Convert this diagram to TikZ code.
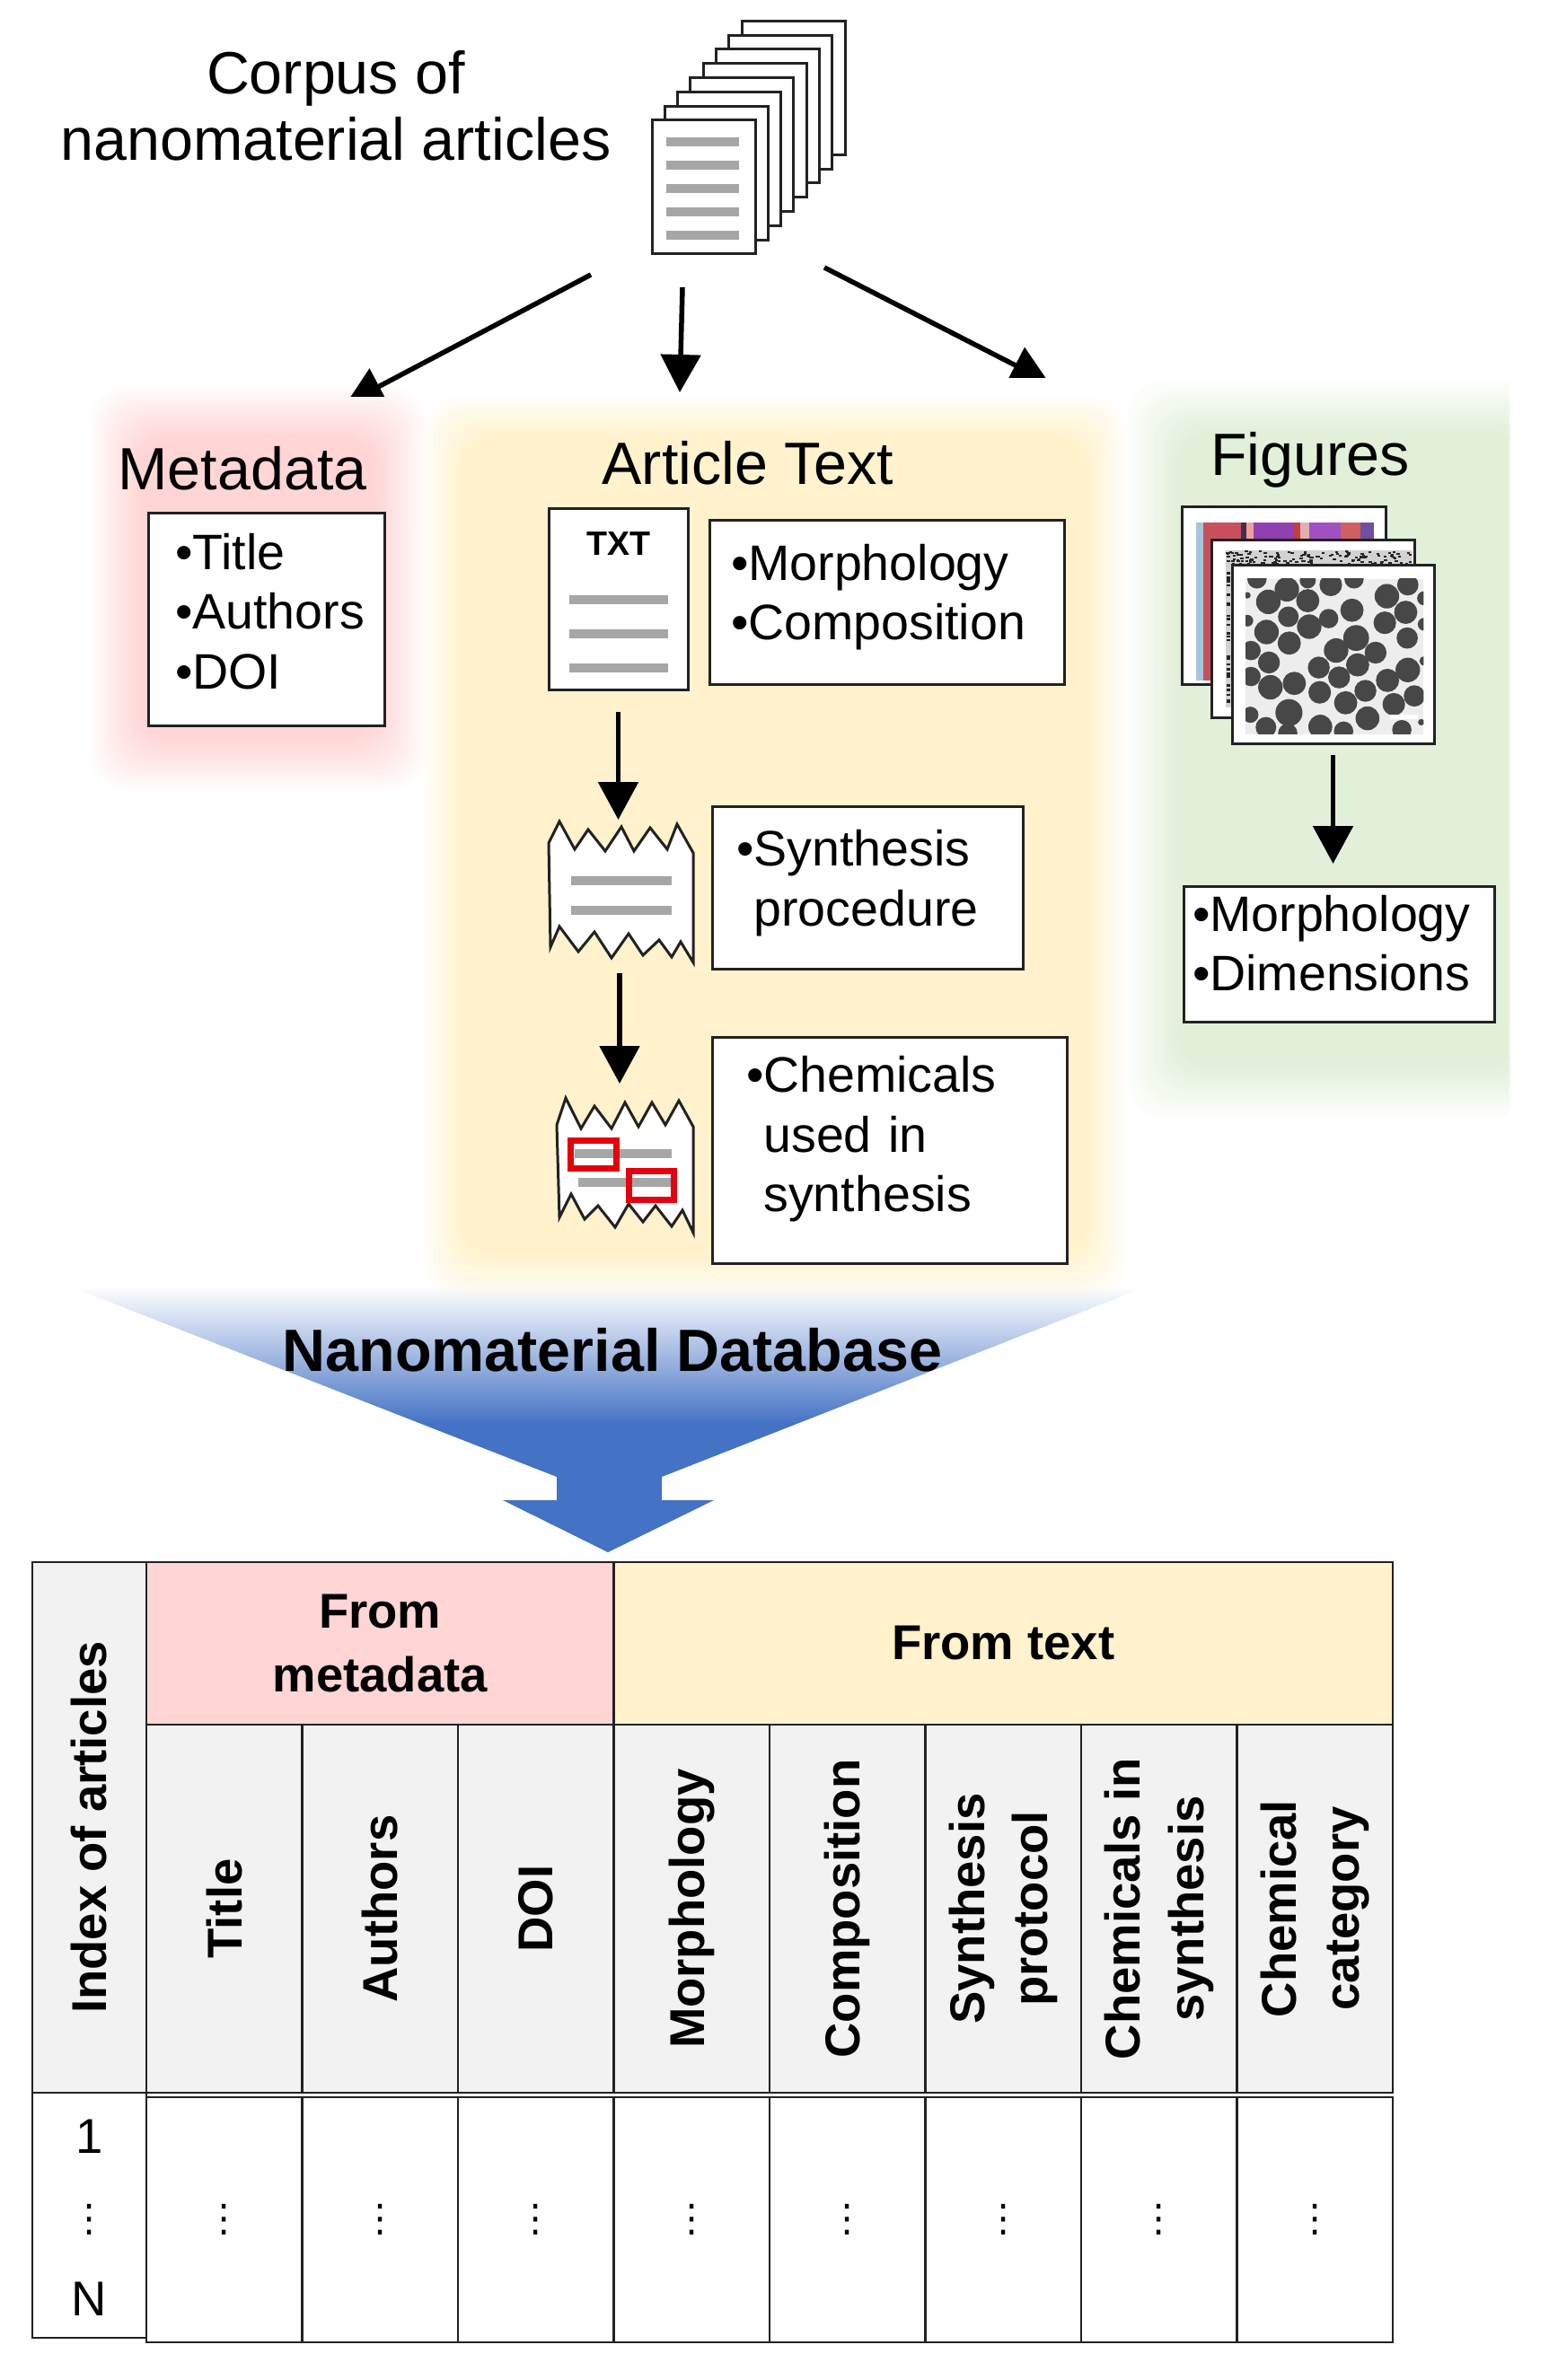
\documentclass[tikz,border=0pt]{standalone}
\usepackage{fontspec}
\setmainfont{Liberation Sans}
\newfontfamily\dotsfont{DejaVu Sans}
\usepackage{xcolor}
\usetikzlibrary{arrows.meta, positioning, shadows}

\definecolor{softpink}{HTML}{FFD5D5}
\definecolor{softyellow}{HTML}{FFF2CC}
\definecolor{softgreen}{HTML}{E2F0D9}
\definecolor{dbblue}{HTML}{4472C4}
\definecolor{headgray}{HTML}{F2F2F2}
\definecolor{linegray}{HTML}{A6A6A6}
\definecolor{markred}{HTML}{E3000F}
\definecolor{edge}{HTML}{222222}

\pgfdeclareverticalshading{funnelfade}{100bp}{color(0bp)=(dbblue); color(48bp)=(dbblue); color(73bp)=(white); color(100bp)=(white)}

% blurred panel: colour, corners, blur width
\newcommand{\softpanel}[6]{%
  \foreach \k in {0,...,13} {
    \pgfmathsetmacro{\ins}{\k*#6/13}
    \pgfmathsetmacro{\alph}{1/(14-\k)}
    \fill[#1, fill opacity=\alph, rounded corners=4mm] ({#2+\ins},{#3+\ins}) rectangle ({#4-\ins},{#5-\ins});
  }%
}

\begin{document}
\begin{tikzpicture}[
    x=1cm, y=-1cm,
    % Styles
    heading/.style={font=\fontsize{18.9}{21}\selectfont, align=center, inner sep=0pt},
    page/.style={rectangle, draw=edge, line width=0.03cm, fill=white, inner sep=0pt},
    txtbox/.style n args={4}{rectangle, draw=edge, line width=0.03cm, fill=white, align=left,
        font=\fontsize{15.8}{18.9}\selectfont, minimum height=#2cm, inner xsep=#3cm, inner ysep=0pt,
        text width={(#1-2*#3)*1cm}, execute at end node={\endgraf\vspace*{#4cm}},
        drop shadow={shadow xshift=0.02cm, shadow yshift=-0.02cm, opacity=0.35}},
    textline/.style={draw=linegray, line width=0.1cm},
    torn/.style={draw=edge, line width=0.03cm, fill=white, line join=miter},
    marker/.style={draw=markred, line width=0.07cm},
    arrow/.style={-{Triangle[length=0.42cm,width=0.44cm]}, line width=0.055cm},
    cell/.style={rectangle, draw=edge, line width=0.025cm, inner sep=0pt, align=center,
        font=\fontsize{15.5}{20}\selectfont\bfseries},
    colhead/.style={cell, fill=headgray, rotate=90, minimum width=4.1cm, minimum height=1.735cm},
    datacell/.style={cell, minimum width=1.735cm, minimum height=2.73cm, font=\fontsize{12}{13}\dotsfont},
    indexnum/.style={font=\fontsize{15.5}{18}\selectfont, inner sep=0pt},
]
\useasboundingbox (0,0) rectangle (17.24,26.51);

% ===== DATABASE FUNNEL =====
\shade[shading=funnelfade]
    (0.45,14.2) -- (6.2,16.45) -- (6.2,16.71) -- (5.6,16.71) -- (6.77,17.29) -- (7.95,16.71)
    -- (7.37,16.71) -- (7.37,16.45) -- (13.1,14.2) -- cycle;

% ===== SOFT PANELS =====
\softpanel{softpink}{1.00}{4.30}{4.75}{8.80}{0.55}
\begin{scope}
    \clip (0,0) rectangle (16.81,26.51);
    \softpanel{softgreen}{12.55}{4.24}{17.5}{12.45}{0.55}
\end{scope}
\softpanel{softyellow}{4.70}{4.40}{12.55}{14.45}{0.45}

% ===== CORPUS =====
\node[heading] (corpus) at (3.74,1.18) {Corpus of\\nanomaterial articles};
\foreach \i in {7,...,0}
    \node[page, minimum width=1.15cm, minimum height=1.49cm] (doc\i) at ({7.835+\i*0.143},{2.085-\i*0.158}) {};
\foreach \y in {1.58,1.84,2.10,2.36,2.62}
    \draw[textline] (7.42,\y) -- (8.23,\y);

\coordinate (corpusL) at (6.58,3.06);
\coordinate (corpusM) at (7.60,3.20);
\coordinate (corpusR) at (9.18,2.98);
\coordinate (metaIn) at (3.85,4.50);
\coordinate (textIn) at (7.57,4.37);
\coordinate (figIn) at (11.68,4.26);

\begin{scope}
    \clip (0,0) rectangle (17.24,4.42);
    \draw[arrow] (corpusL) -- (metaIn);
\end{scope}
\draw[arrow] (corpusM) -- (textIn);
\begin{scope}
    \clip (0,0) rectangle (17.24,4.21);
    \draw[arrow] (corpusR) -- (figIn);
\end{scope}

% ===== METADATA =====
\node[heading] (metaTitle) at (2.70,5.22) {Metadata};
\node[txtbox={2.63}{2.36}{0.30}{0.18}] (metaBox) at (2.965,6.90)
    {\textbullet Title\\\textbullet Authors\\\textbullet DOI};

% ===== ARTICLE TEXT =====
\node[heading] (textTitle) at (8.33,5.16) {Article Text};
\node[page, minimum width=1.55cm, minimum height=2.02cm] (txtdoc) at (6.885,6.68) {};
\node[font=\fontsize{10.7}{12}\selectfont\bfseries, inner sep=0pt] (txtlabel) at (6.89,6.06) {TXT};
\foreach \y in {6.68,7.06,7.44}
    \draw[textline] (6.34,\y) -- (7.44,\y);
\node[txtbox={3.95}{1.82}{0.24}{0.12}] (morphBox) at (9.875,6.71)
    {\textbullet Morphology\\\textbullet Composition};

% torn page
\draw[torn] (6.11,9.39) -- (6.23,9.15) -- (6.40,9.46) -- (6.55,9.24) -- (6.74,9.48) -- (6.92,9.21)
    -- (7.06,9.48) -- (7.24,9.22) -- (7.43,9.46) -- (7.54,9.18) -- (7.72,9.50) -- (7.72,10.72)
    -- (7.58,10.49) -- (7.48,10.66) -- (7.34,10.47) -- (7.16,10.64) -- (7.00,10.40) -- (6.81,10.67)
    -- (6.62,10.38) -- (6.44,10.60) -- (6.23,10.32) -- (6.13,10.55) -- cycle;
\draw[textline] (6.36,9.81) -- (7.48,9.81);
\draw[textline] (6.36,10.14) -- (7.48,10.14);
\node[txtbox={3.46}{1.81}{0.27}{0.10}] (synthBox) at (9.66,9.885)
    {\textbullet Synthesis\\\hphantom{\textbullet}procedure};

% torn page with marks
\draw[torn] (6.20,12.53) -- (6.30,12.23) -- (6.47,12.57) -- (6.62,12.32) -- (6.81,12.57) -- (6.96,12.28)
    -- (7.11,12.55) -- (7.26,12.28) -- (7.41,12.53) -- (7.56,12.26) -- (7.72,12.55) -- (7.72,13.73)
    -- (7.60,13.48) -- (7.48,13.66) -- (7.30,13.43) -- (7.16,13.61) -- (7.00,13.41) -- (6.85,13.67)
    -- (6.66,13.43) -- (6.51,13.58) -- (6.36,13.30) -- (6.23,13.56) -- cycle;
\draw[textline] (6.40,12.85) -- (7.48,12.85);
\draw[textline] (6.44,13.17) -- (7.52,13.17);
\draw[marker] (6.35,12.70) rectangle (6.86,13.01);
\draw[marker] (7.00,13.04) rectangle (7.50,13.36);
\node[txtbox={3.95}{2.52}{0.38}{0.24}] (chemBox) at (9.905,12.81)
    {\textbullet Chemicals\\\hphantom{\textbullet}used in\\\hphantom{\textbullet}synthesis};

\coordinate (tornAtop) at (6.885,9.13);
\coordinate (tornAbot) at (6.90,10.84);
\coordinate (tornBtop) at (6.90,12.07);
\draw[arrow] ([yshift=-0.22cm]txtdoc.south) -- (tornAtop);
\draw[arrow] (tornAbot) -- (tornBtop);

% ===== FIGURES =====
\node[heading] (figTitle) at (14.59,5.12) {Figures};
\node[page, minimum width=2.27cm, minimum height=1.98cm] (figback) at (14.295,6.64) {};
\begin{scope}[shift={(13,5.5)}, x=0.003333cm, y=-0.003333cm]
    \foreach \xa/\xb/\c in {97/120/A8C4DC,120/245/C8505C,245/265/403050,265/290/F0A0A0,290/420/9040B0,
        420/445/C04040,445/475/E0B0B0,475/580/A050C0,580/645/D06060,645/690/7050A0} {
        \definecolor{stripe}{HTML}{\c}
        \fill[stripe] (\xa,95) rectangle (\xb,625);
    }
\end{scope}
\node[page, minimum width=2.26cm, minimum height=1.98cm] (figmid) at (14.62,7.01) {};
\begin{scope}[shift={(13,5.5)}, x=0.003333cm, y=-0.003333cm]
    \fill[gray!35] (195,190) rectangle (822,240);
    \fill[gray!35] (195,190) rectangle (215,715);
    \pgfmathsetseed{7}
    \foreach \i in {1,...,150} {
        \pgfmathsetmacro{\px}{195+rnd*622}
        \pgfmathsetmacro{\py}{190+rnd*46}
        \fill[black!85] (\px,\py) rectangle ++(10,6);
    }
    \foreach \i in {1,...,40} {
        \pgfmathsetmacro{\py}{190+rnd*520}
        \fill[black!85] (197,\py) rectangle ++(14,7);
    }
\end{scope}
\node[page, minimum width=2.25cm, minimum height=1.98cm] (figfront) at (14.845,7.29) {};
\begin{scope}[shift={(13,5.5)}, x=0.003333cm, y=-0.003333cm]
    \fill[gray!14] (262,285) rectangle (858,805);
    \clip (262,285) rectangle (858,805);
    \foreach \px/\py/\pr in {400/320/38,338/362/38,470/358/36,547/305/35,300/285/30,470/290/25,625/285/30,
        735/343/38,805/305/33,860/350/22,618/390/36,540/418/30,405/412/32,475/445/38,332/463/38,798/397/36,
        728/432/35,860/437/20,803/483/33,268/425/18,268/340/10,632/483/40,565/525/38,697/532/34,408/500/36,
        280/525/30,340/565/34,637/573/36,507/582/34,575/615/34,280/612/30,345/648/38,425/635/36,510/665/35,
        663/660/34,737/625/36,805/590/38,860/560/15,827/677/33,597/700/36,758/705/35,670/752/37,407/733/42,
        278/740/25,330/782/32,512/780/37,590/795/30,403/802/30,785/790/30,850/765/10}
        \fill[black!72] (\px,\py) circle[radius=\pr*1.08];
    \fill[white] (745,740) rectangle (840,755);
\end{scope}
\coordinate (figdown) at (14.845,9.62);
\draw[arrow] ([yshift=-0.11cm]figfront.south) -- (figdown);
\node[txtbox={3.46}{1.51}{0.10}{0.24}] (dimBox) at (14.91,10.625)
    {\textbullet Morphology\\\textbullet Dimensions};

% ===== DATABASE TABLE =====
\node[font=\fontsize{18.9}{21}\selectfont\bfseries, inner sep=0pt] (dbTitle) at (6.82,15.04) {Nanomaterial Database};

\node[cell, fill=headgray, rotate=90, minimum width=5.91cm, minimum height=1.27cm] (indexHead) at (0.995,20.355) {Index of articles};
\node[cell, fill=softpink, minimum width=5.205cm, minimum height=1.81cm] (fromMeta) at (4.2325,18.305) {From\\metadata};
\node[cell, fill=softyellow, minimum width=8.675cm, minimum height=1.81cm] (fromText) at (11.1725,18.305) {From text};

\foreach \n/\lab [count=\i] in {title/Title, authors/Authors, doi/DOI, morph/Morphology, comp/Composition,
    proto/{Synthesis\\protocol}, chem/{Chemicals in\\synthesis}, cat/{Chemical\\category}} {
    \node[colhead] (\n) at ({1.63+(\i-0.5)*1.735},21.26) {\lab};
    \node[datacell] (\n Data) at ({1.63+(\i-0.5)*1.735},24.725) {⋮};
}

\node[cell, minimum width=1.27cm, minimum height=2.73cm] (indexData) at (0.995,24.675) {};
\node[indexnum] (firstIdx) at (0.995,23.80) {1};
\node[font=\fontsize{12}{13}\dotsfont, inner sep=0pt] (midIdx) at (0.995,24.725) {⋮};
\node[indexnum] (lastIdx) at (0.995,25.61) {N};

\end{tikzpicture}
\end{document}
